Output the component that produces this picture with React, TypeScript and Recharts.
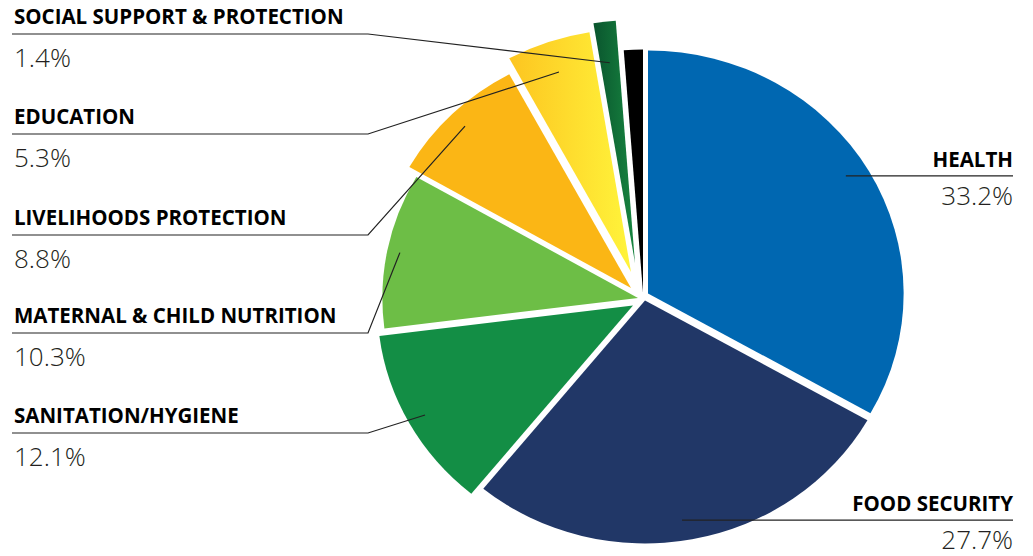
import React from 'react';
import { PieChart, Pie, Cell, Sector } from 'recharts';

const categories = [
  'HEALTH',
  'FOOD SECURITY',
  'SANITATION/HYGIENE',
  'MATERNAL & CHILD NUTRITION',
  'LIVELIHOODS PROTECTION',
  'EDUCATION',
  'SOCIAL SUPPORT & PROTECTION',
  'OTHER',
];
const shares = [33.2, 27.7, 12.1, 10.3, 8.8, 5.3, 1.4, 1.2];
const shareLabels = ['33.2%', '27.7%', '12.1%', '10.3%', '8.8%', '5.3%', '1.4%', ''];

const data = categories.map((name, i) => ({ name, value: shares[i] }));

// styling
const COLORS = ['#0067b1', '#213767', '#138e45', '#6dbe46', '#fbb615', 'url(#eduGrad)', 'url(#socGrad)', '#000000'];
const SHIFTS: [number, number][] = [
  [4, -3.5], [1, 3.5], [-11, 8.5], [-6, 1], [-13, -9], [-13, -25], [-9, -34], [-1, -4.5],
];
const ANCHOR_F = [0.913, 0.915, 0.93, 0.95, 0.93, 0.87, 0.83, 0];
const ANCHOR_DA = [1.8, -1.5, 0, 0, 0, 0, 0, 0];
const LEFT_LINE_Y: Record<number, number> = { 6: 34, 5: 134, 4: 235, 3: 333, 2: 433 };
const RIGHT_X = 1013;
const LEFT_X = 12;
const ELBOW_X = 368;

const CX = 644;
const CY = 297;
const R = 243;
const SX = 1.052;
const RAD = Math.PI / 180;

const idxOf = (p: any) => {
  if (typeof p.index === 'number') return p.index;
  const n = p?.payload?.name ?? p?.name;
  return categories.indexOf(n);
};

const renderShape = (props: any) => {
  const i = idxOf(props);
  const [dx, dy] = SHIFTS[i] ?? [0, 0];
  const { cx, cy } = props;
  return (
    <g transform={`translate(${dx} ${dy}) translate(${cx} ${cy}) scale(${SX} 1) translate(${-cx} ${-cy})`}>
      <Sector {...props} stroke="none" />
    </g>
  );
};

const TITLE_FONT = { fontFamily: '"Open Sans", sans-serif', fontWeight: 700, fontSize: 20.5, fill: '#000' };
const PCT_FONT = { fontFamily: '"Open Sans", sans-serif', fontWeight: 300, fontSize: 26, fill: '#231f20' };

const renderLabel = (props: any) => {
  const i = idxOf(props);
  if (i < 0 || !shareLabels[i]) return null;
  const { cx, cy, midAngle, outerRadius } = props;
  const [dx, dy] = SHIFTS[i];
  const f = ANCHOR_F[i];
  const a = midAngle + ANCHOR_DA[i];
  const ax = cx + dx + SX * f * outerRadius * Math.cos(-a * RAD);
  const ay = cy + dy + f * outerRadius * Math.sin(-a * RAD);
  if (LEFT_LINE_Y[i] === undefined) {
    return (
      <g>
        <line x1={ax} y1={ay} x2={RIGHT_X} y2={ay} stroke="#222" strokeWidth={1.2} />
        <text x={RIGHT_X} y={ay - 9} textAnchor="end" style={TITLE_FONT}>{categories[i]}</text>
        <text x={RIGHT_X} y={ay + 29} textAnchor="end" style={PCT_FONT}>{shareLabels[i]}</text>
      </g>
    );
  }
  const ly = LEFT_LINE_Y[i];
  return (
    <g>
      <polyline points={`${LEFT_X},${ly} ${ELBOW_X},${ly} ${ax},${ay}`} fill="none" stroke="#222" strokeWidth={1.2} />
      <text x={14} y={ly - 10} textAnchor="start" style={TITLE_FONT}>{categories[i]}</text>
      <text x={14} y={ly + 33} textAnchor="start" style={PCT_FONT}>{shareLabels[i]}</text>
    </g>
  );
};

export default function App() {
  return (
    <div style={{ position: 'absolute', left: 0, top: 0, background: '#fff' }}>
      <PieChart width={1033} height={556} margin={{ top: 0, right: 0, bottom: 0, left: 0 }}>
        <defs>
          <linearGradient id="eduGrad" x1="0" y1="0" x2="1" y2="0">
            <stop offset="0%" stopColor="#fdc520" />
            <stop offset="100%" stopColor="#fff43b" />
          </linearGradient>
          <linearGradient id="socGrad" x1="0" y1="0" x2="1" y2="0">
            <stop offset="0%" stopColor="#0a552e" />
            <stop offset="100%" stopColor="#178540" />
          </linearGradient>
        </defs>
        <Pie
          data={data}
          dataKey="value"
          nameKey="name"
          cx={CX}
          cy={CY}
          outerRadius={R}
          innerRadius={0}
          startAngle={90}
          endAngle={-270}
          stroke="none"
          isAnimationActive={false}
          shape={renderShape}
          label={renderLabel}
          labelLine={false}
        >
          {data.map((d, i) => (
            <Cell key={d.name} fill={COLORS[i]} />
          ))}
        </Pie>
      </PieChart>
    </div>
  );
}
